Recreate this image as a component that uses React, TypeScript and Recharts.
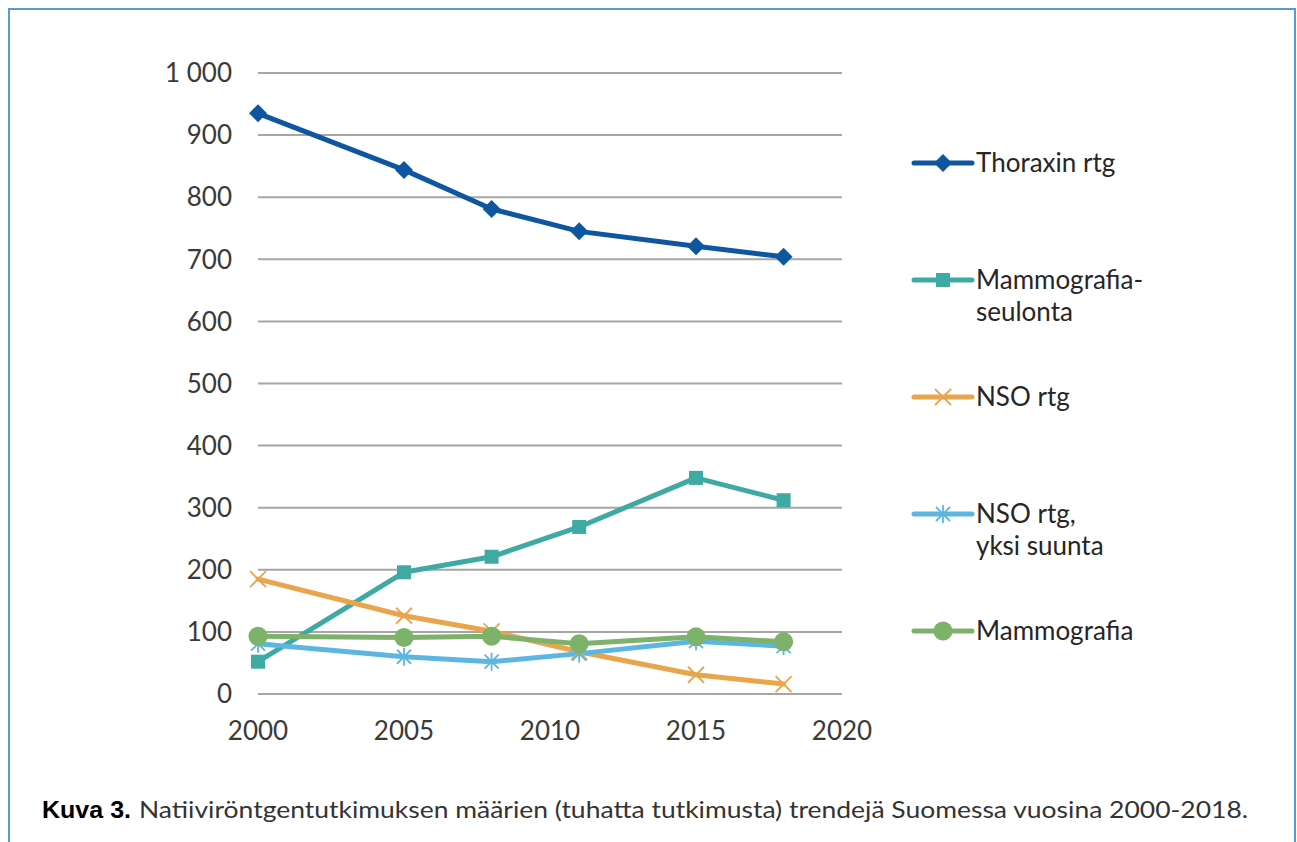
import React from "react";
import { LineChart, Line, XAxis, YAxis, CartesianGrid, Legend } from "recharts";

const years = [2000, 2005, 2008, 2011, 2015, 2018];
const thoraxinRtg = [935, 844, 781, 745, 721, 704];
const mammografiaSeulonta = [52, 196, 221, 269, 348, 312];
const nsoRtg = [185, 126, 101, 68, 31, 16];
const nsoRtgYksiSuunta = [81, 60, 52, 65, 85, 77];
const mammografia = [93, 91, 93, 81, 92, 84];

const xTicks = [2000, 2005, 2010, 2015, 2020];
const yTicks = [0, 100, 200, 300, 400, 500, 600, 700, 800, 900, 1000];

const captionBold = "Kuva 3.";
const captionText =
  "Natiiviröntgentutkimuksen määrien (tuhatta tutkimusta) trendejä Suomessa vuosina 2000-2018.";

type Shape = "diamond" | "square" | "cross" | "star" | "circle";

const series: { key: string; name: string[]; color: string; shape: Shape }[] = [
  { key: "thoraxin", name: ["Thoraxin rtg"], color: "#0e57a0", shape: "diamond" },
  { key: "seulonta", name: ["Mammografia-", "seulonta"], color: "#3eaaa3", shape: "square" },
  { key: "nso", name: ["NSO rtg"], color: "#e8a54c", shape: "cross" },
  { key: "nsoYksi", name: ["NSO rtg,", "yksi suunta"], color: "#5cb6e0", shape: "star" },
  { key: "mammo", name: ["Mammografia"], color: "#7db26a", shape: "circle" },
];

const data = years.map((y, i) => ({
  year: y,
  thoraxin: thoraxinRtg[i],
  seulonta: mammografiaSeulonta[i],
  nso: nsoRtg[i],
  nsoYksi: nsoRtgYksiSuunta[i],
  mammo: mammografia[i],
}));

const FONT = "Lato, 'Open Sans', sans-serif";
const TEXT = "#3a3a3a";

function Marker({ cx, cy, shape, color }: { cx: number; cy: number; shape: Shape; color: string }) {
  switch (shape) {
    case "diamond":
      return <polygon points={`${cx},${cy - 9} ${cx + 9},${cy} ${cx},${cy + 9} ${cx - 9},${cy}`} fill={color} />;
    case "square":
      return <rect x={cx - 7} y={cy - 7} width={14} height={14} fill={color} />;
    case "cross":
      return (
        <g stroke={color} strokeWidth={1.8}>
          <line x1={cx - 8} y1={cy - 8} x2={cx + 8} y2={cy + 8} />
          <line x1={cx - 8} y1={cy + 8} x2={cx + 8} y2={cy - 8} />
        </g>
      );
    case "star":
      return (
        <g stroke={color} strokeWidth={1.8}>
          <line x1={cx - 7} y1={cy - 7} x2={cx + 7} y2={cy + 7} />
          <line x1={cx - 7} y1={cy + 7} x2={cx + 7} y2={cy - 7} />
          <line x1={cx} y1={cy - 9} x2={cx} y2={cy + 9} />
        </g>
      );
    case "circle":
    default:
      return <circle cx={cx} cy={cy} r={9.5} fill={color} />;
  }
}

const makeDot = (shape: Shape, color: string) => (props: any) => {
  const { cx, cy, index } = props;
  if (cx == null || cy == null) return <g key={`d-${index}`} />;
  return (
    <g key={`d-${shape}-${index}`}>
      <Marker cx={cx} cy={cy} shape={shape} color={color} />
    </g>
  );
};

const renderLegend = () => {
  const step = 117;
  return (
    <svg width={380} height={540} style={{ display: "block" }}>
      {series.map((s, i) => {
        const y = 23 + i * step;
        return (
          <g key={s.key}>
            <line x1={9} y1={y} x2={67} y2={y} stroke={s.color} strokeWidth={5} strokeLinecap="round" />
            <Marker cx={38} cy={y} shape={s.shape} color={s.color} />
            {s.name.map((t, j) => (
              <text
                key={j}
                x={71}
                y={y + j * 32}
                dy="0.36em"
                fontSize={26}
                fontFamily={FONT}
                fill="#262626"
              >
                {t}
              </text>
            ))}
          </g>
        );
      })}
    </svg>
  );
};

const fmt = (v: number) => String(v).replace(/\B(?=(\d{3})+(?!\d))/g, " ");

export default function App() {
  return (
    <div
      style={{
        position: "absolute",
        left: 0,
        top: 0,
        width: 1297,
        height: 842,
        overflow: "hidden",
        background: "#fff",
      }}
    >
      <div
        style={{
          position: "absolute",
          left: 8,
          top: 8,
          width: 1288,
          height: 900,
          borderLeft: "2px solid #5b9bd5",
          borderTop: "2px solid #5b9bd5",
          borderRight: "2px solid #5b9bd5",
          boxSizing: "border-box",
        }}
      />
      <div style={{ position: "absolute", left: 0, top: 0 }}>
        <LineChart
          width={1297}
          height={842}
          data={data}
          margin={{ top: 73, right: 455, bottom: 88, left: 198 }}
        >
          <CartesianGrid horizontal vertical={false} stroke="#a6a6a6" strokeWidth={2} />
          <XAxis
            dataKey="year"
            type="number"
            domain={[2000, 2020]}
            ticks={xTicks}
            axisLine={false}
            tickLine={false}
            tickSize={0}
            tickMargin={28}
            height={60}
            tick={{ fontSize: 26, fontFamily: FONT, fill: TEXT }}
            interval={0}
          />
          <YAxis
            type="number"
            domain={[0, 1000]}
            ticks={yTicks}
            axisLine={false}
            tickLine={false}
            tickSize={0}
            tickMargin={26}
            width={60}
            tickFormatter={fmt}
            tick={{ fontSize: 26, fontFamily: FONT, fill: TEXT }}
            interval={0}
          />
          <Legend
            layout="horizontal"
            verticalAlign="middle"
            align="center"
            content={renderLegend}
            wrapperStyle={{ left: 905, top: 140, width: 380, height: 540 }}
          />
          {series.map((s) => (
            <Line
              key={s.key}
              dataKey={s.key}
              name={s.name.join(" ")}
              stroke={s.color}
              strokeWidth={5}
              dot={makeDot(s.shape, s.color)}
              activeDot={false}
              isAnimationActive={false}
              strokeLinejoin="round"
              strokeLinecap="round"
            />
          ))}
        </LineChart>
      </div>
      <svg
        width={1297}
        height={842}
        style={{ position: "absolute", left: 0, top: 0, pointerEvents: "none" }}
      >
        <text
          x={42}
          y={818}
          fontSize={24}
          fontWeight="bold"
          fontFamily="'Liberation Sans Narrow', 'Liberation Sans', Arial, sans-serif"
          fill="#000"
          textLength={89}
          lengthAdjust="spacingAndGlyphs"
        >
          {captionBold}
        </text>
        <text
          x={139}
          y={818}
          fontSize={24}
          fontFamily={FONT}
          fill="#333"
          textLength={1109}
          lengthAdjust="spacingAndGlyphs"
        >
          {captionText}
        </text>
      </svg>
    </div>
  );
}
